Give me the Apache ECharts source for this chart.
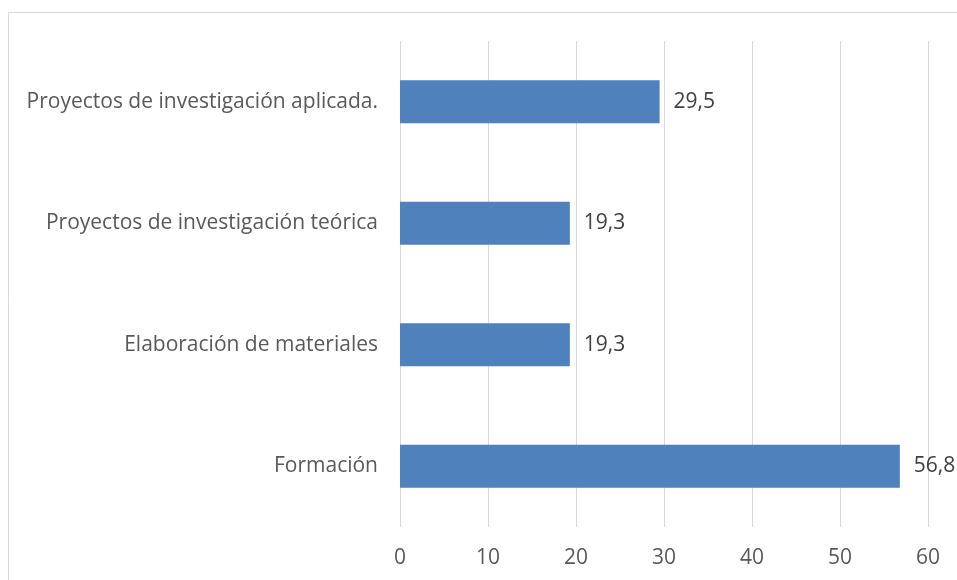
<!DOCTYPE html>
<html>
<head>
<meta charset="utf-8">
<script src="https://cdn.jsdelivr.net/npm/echarts@6/dist/echarts.min.js"></script>
<style>
  html, body { margin: 0; padding: 0; background: #fff; }
</style>
</head>
<body>
<div id="chart-container" style="width: 957px; height: 580px"></div>
<script>
// categories from bottom to top
var categories = [
  "Formación",
  "Elaboración de materiales",
  "Proyectos de investigación teórica",
  "Proyectos de investigación aplicada."
];
var values = [56.8, 19.3, 19.3, 29.5];
var tickMin = 0;
var tickMax = 60;
var tickStep = 10;

var fontFamily = "'Open Sans', sans-serif";

var myChart = echarts.init(document.getElementById("chart-container"));
var option = {
  animation: false,
  grid: {
    left: 400,
    right: 29,
    top: 41,
    bottom: 53,
  },
  graphic: [
    {
      type: "rect",
      shape: { x: 8.5, y: 12.5, width: 1000, height: 700 },
      style: { fill: "none", stroke: "#d9d9d9", lineWidth: 1 },
      silent: true,
    },
  ],
  xAxis: {
    type: "value",
    min: tickMin,
    max: tickMax,
    interval: tickStep,
    axisLine: { show: false },
    axisTick: { show: false },
    splitLine: { lineStyle: { color: "#d9d9d9", width: 1 } },
    axisLabel: {
      margin: 21,
      fontSize: 21,
      color: "#595959",
      fontFamily: fontFamily,
    },
  },
  yAxis: {
    type: "category",
    data: categories,
    axisLine: { show: false },
    axisTick: { show: false },
    axisLabel: {
      margin: 22,
      fontSize: 21,
      color: "#595959",
      fontFamily: fontFamily,
    },
  },
  series: [
    {
      type: "bar",
      data: values,
      barWidth: 43,
      itemStyle: { color: "#4f81bd" },
      label: {
        show: true,
        position: "right",
        distance: 14,
        fontSize: 21,
        color: "#404040",
        fontFamily: fontFamily,
        formatter: function (p) {
          return p.value.toFixed(1).replace(".", ",");
        },
      },
    },
  ],
};
myChart.setOption(option);
</script>
</body>
</html>
